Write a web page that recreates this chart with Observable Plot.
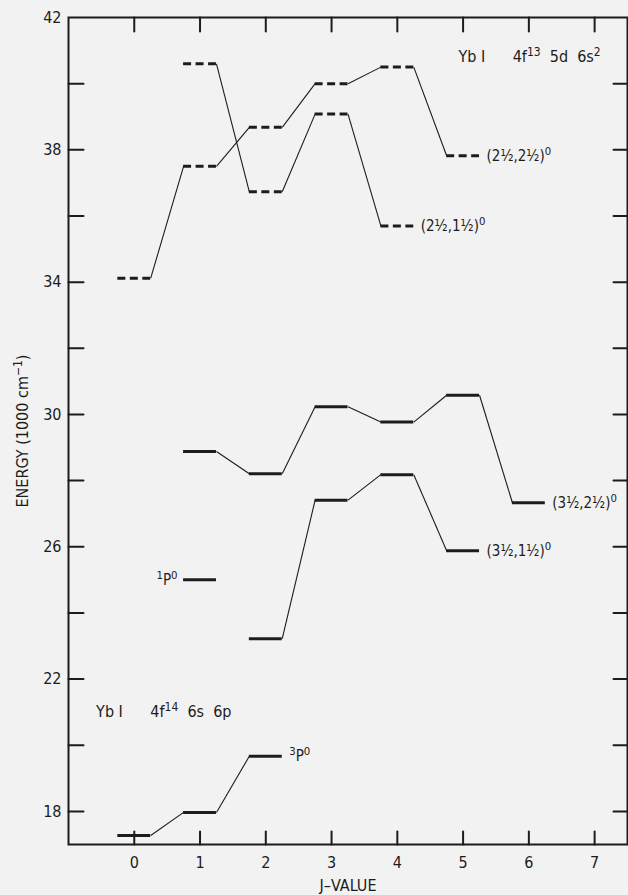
<!DOCTYPE html>
<html>
<head>
<meta charset="utf-8">
<script src="https://cdn.jsdelivr.net/npm/d3@7"></script>
<script src="https://cdn.jsdelivr.net/npm/@observablehq/plot@0.6"></script>
<style>
  html, body { margin: 0; padding: 0; background: #f2f2f2; overflow: hidden; }
  #chart svg { display: block; }
  #chart g[aria-label="axis-title"] text { letter-spacing: 0.6px; }
  #chart g[aria-label="config"] text { letter-spacing: 0.3px; }
</style>
</head>
<body>
<div id="chart"></div>
<script>
// ---- data ----
const xTicks = [0, 1, 2, 3, 4, 5, 6, 7];
const yLabelTicks = [18, 22, 26, 30, 34, 38, 42];
const yMinorTicks = [18, 20, 22, 24, 26, 28, 30, 32, 34, 36, 38, 40];

// 4f13 5d 6s2 configuration (dashed levels)
const s2525Name = "(2½,2½)⁰";
const s2525J = [0, 1, 2, 3, 4, 5];
const s2525E = [34.12, 37.50, 38.68, 40.00, 40.50, 37.82];

const s2515Name = "(2½,1½)⁰";
const s2515J = [1, 2, 3, 4];
const s2515E = [40.60, 36.73, 39.08, 35.70];

// solid levels
const s3525Name = "(3½,2½)⁰";
const s3525J = [1, 2, 3, 4, 5, 6];
const s3525E = [28.88, 28.21, 30.23, 29.77, 30.58, 27.33];

const s3515Name = "(3½,1½)⁰";
const s3515J = [2, 3, 4, 5];
const s3515E = [23.22, 27.41, 28.18, 25.88];

const p3Name = "³P⁰";
const p3J = [0, 1, 2];
const p3E = [17.27, 17.97, 19.67];

const p1Name = "¹P⁰";
const p1J = [1];
const p1E = [25.00];

// configuration annotations
const configText = [
  "Yb I\u00a0\u00a0\u00a0\u00a0\u00a0\u00a04f¹³\u00a0\u00a05d\u00a0\u00a06s²",
  "Yb I\u00a0\u00a0\u00a0\u00a0\u00a0\u00a04f¹⁴\u00a0\u00a06s\u00a0\u00a06p"
];
const configJ = [4.93, -0.58];
const configE = [40.82, 21.0];

const xLabel = "J–VALUE";
const yLabel = "ENERGY (1000 cm⁻¹)";

// ---- build tables ----
const dashedSeries = [
  {name: s2525Name, J: s2525J, E: s2525E},
  {name: s2515Name, J: s2515J, E: s2515E}
];
const solidSeries = [
  {name: s3525Name, J: s3525J, E: s3525E},
  {name: s3515Name, J: s3515J, E: s3515E},
  {name: p3Name, J: p3J, E: p3E}
];
const allSeries = dashedSeries.concat(solidSeries);

const toLevels = s => s.J.map((j, i) => ({J: j, E: s.E[i], name: s.name}));
const toLinks = s => s.J.slice(1).map((j, i) => ({J1: s.J[i], E1: s.E[i], J2: j, E2: s.E[i + 1]}));

const dashedLevels = dashedSeries.flatMap(toLevels);
const solidLevels = solidSeries.flatMap(toLevels).concat(p1J.map((j, i) => ({J: j, E: p1E[i], name: p1Name})));
const links = allSeries.flatMap(toLinks);
const endLabels = allSeries.map(s => ({name: s.name, J: s.J[s.J.length - 1], E: s.E[s.E.length - 1]}));
const p1Labels = p1J.map((j, i) => ({name: p1Name, J: j, E: p1E[i]}));
const configs = configText.map((t, i) => ({text: t, J: configJ[i], E: configE[i]}));

// ---- style ----
const ink = "#1c1c1c";
const font = "'DejaVu Sans Condensed', 'Liberation Sans Narrow', 'DejaVu Sans', sans-serif";
const half = 0.25;
const tickShape = {draw(ctx, l) { ctx.moveTo(0, 0); ctx.lineTo(0, -l); }};

const chart = Plot.plot({
  width: 628,
  height: 895,
  marginLeft: 68,
  marginRight: 1,
  marginTop: 17,
  marginBottom: 51,
  style: {background: "#f2f2f2", fontFamily: font, fontSize: "16px", color: ink},
  x: {domain: [-1, 7.5], axis: null},
  y: {domain: [17, 42], axis: null},
  marks: [
    // tick labels
    Plot.axisX(xTicks, {anchor: "bottom", tickSize: 0, tickPadding: 12, fontSize: 16, fill: ink, label: null}),
    Plot.axisY(yLabelTicks, {anchor: "left", tickSize: 0, tickPadding: 7, fontSize: 16, fill: ink, label: null}),
    // inward ticks
    Plot.vector(xTicks, {x: d => d, frameAnchor: "bottom", length: 13, rotate: 0, anchor: "start", shape: tickShape, stroke: ink, strokeWidth: 2}),
    Plot.vector(xTicks, {x: d => d, frameAnchor: "top", length: 14, rotate: 180, anchor: "start", shape: tickShape, stroke: ink, strokeWidth: 2}),
    Plot.vector(yMinorTicks, {y: d => d, frameAnchor: "left", length: 15, rotate: 90, anchor: "start", shape: tickShape, stroke: ink, strokeWidth: 2}),
    Plot.vector(yMinorTicks, {y: d => d, frameAnchor: "right", length: 14, rotate: -90, anchor: "start", shape: tickShape, stroke: ink, strokeWidth: 2}),
    Plot.frame({stroke: ink, strokeWidth: 2}),
    // axis titles
    Plot.text([yLabel], {text: d => d, frameAnchor: "left", dx: -46, rotate: -90, textAnchor: "middle", fontSize: 16, fill: ink, ariaLabel: "axis-title"}),
    Plot.text([xLabel], {text: d => d, frameAnchor: "bottom", dy: 46, textAnchor: "middle", fontSize: 16, fill: ink, ariaLabel: "axis-title"}),
    // connectors
    Plot.link(links, {x1: d => d.J1 + half, y1: "E1", x2: d => d.J2 - half, y2: "E2", stroke: ink, strokeWidth: 1.1}),
    // levels
    Plot.ruleY(solidLevels, {y: "E", x1: d => d.J - half, x2: d => d.J + half, stroke: ink, strokeWidth: 3}),
    Plot.ruleY(dashedLevels, {y: "E", x1: d => d.J - half, x2: d => d.J + half, stroke: ink, strokeWidth: 3, strokeDasharray: "8,4.5"}),
    // labels
    Plot.text(endLabels, {x: d => d.J + half, y: "E", text: "name", dx: 7, textAnchor: "start", fontSize: 15, fill: ink}),
    Plot.text(p1Labels, {x: d => d.J - half, y: "E", text: "name", dx: -6, textAnchor: "end", fontSize: 15, fill: ink}),
    Plot.text(configs, {x: "J", y: "E", text: "text", textAnchor: "start", fontSize: 16, fill: ink, ariaLabel: "config"})
  ]
});
document.getElementById("chart").appendChild(chart);

// render Unicode superscripts as raised, smaller tspans (text stays real text)
const supMap = {"⁰": "0", "¹": "1", "²": "2", "³": "3", "⁴": "4", "⁵": "5", "⁶": "6", "⁷": "7", "⁸": "8", "⁹": "9", "⁻": "−"};
const supRe = /[⁰¹²³⁴⁵⁶⁷⁸⁹⁻]+/g;
const svgns = "http://www.w3.org/2000/svg";
d3.select(chart).selectAll("text").each(function () {
  const el = this;
  if (el.querySelector("tspan")) return;
  const s = el.textContent;
  if (!s.match(supRe)) return;
  const parts = [];
  let last = 0;
  s.replace(supRe, (m, offset) => {
    parts.push({t: s.slice(last, offset), sup: false});
    parts.push({t: [...m].map(c => supMap[c]).join(""), sup: true});
    last = offset + m.length;
    return m;
  });
  parts.push({t: s.slice(last), sup: false});
  const fs = parseFloat(getComputedStyle(el).fontSize) || 16;
  const shift = Math.round(fs * 0.4);
  el.textContent = "";
  let raised = false;
  for (const p of parts) {
    if (!p.t) continue;
    const ts = document.createElementNS(svgns, "tspan");
    ts.textContent = p.t;
    if (p.sup) {
      ts.setAttribute("font-size", (fs * 0.75).toFixed(1));
      if (!raised) { ts.setAttribute("dy", -shift); raised = true; }
    } else if (raised) {
      ts.setAttribute("dy", shift); raised = false;
    }
    el.appendChild(ts);
  }
});
</script>
</body>
</html>
